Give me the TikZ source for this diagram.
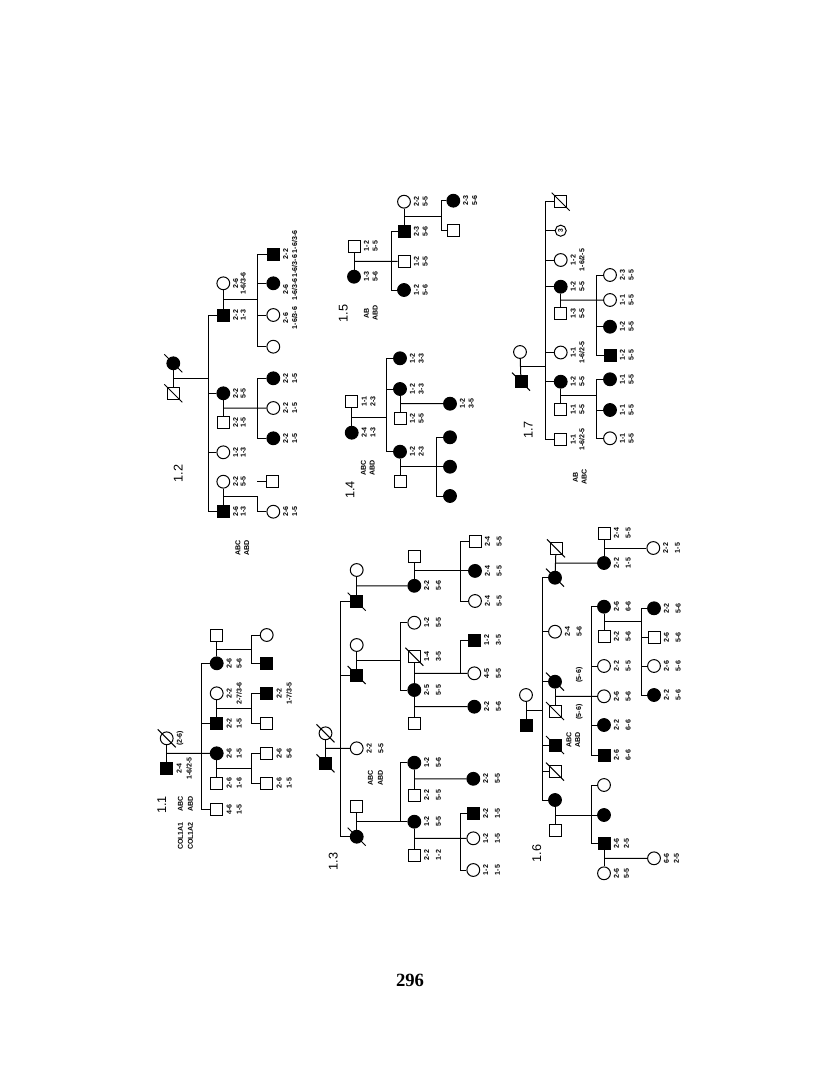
\documentclass[tikz,border=0pt]{standalone}
\usepackage{fontspec}
\setmainfont{Liberation Serif}
\setsansfont{Liberation Sans}
\usetikzlibrary{calc}
\newcommand\plab[4][labB]{\node[#1] (#2-t) at ($(#2)+(9.5,0)$) {#3\\#4};}
\newcommand\slashit[1]{\draw ($(#1)+(-9,-9)$) -- ($(#1)+(9,9)$);}
\begin{document}
\begin{tikzpicture}[x=0.75pt,y=-0.75pt,line width=0.75pt,
  sq/.style={draw,fill=white,rectangle,minimum size=9pt,inner sep=0pt},
  sqf/.style={sq,fill=black},
  ci/.style={draw,fill=white,circle,minimum size=9.6pt,inner sep=0pt},
  cif/.style={ci,fill=black},
  lab/.style={rotate=90,anchor=north,inner sep=0pt,align=center},
  labA/.style={lab,font=\sffamily\bfseries\fontsize{5.3}{5.6}\selectfont},
  labB/.style={lab,font=\sffamily\bfseries\fontsize{5.3}{6.6}\selectfont},
  labC/.style={lab,font=\sffamily\bfseries\fontsize{5.3}{7.5}\selectfont},
  labD/.style={lab,font=\sffamily\bfseries\fontsize{5.3}{8.8}\selectfont},
  fam/.style={rotate=90,inner sep=0pt,font=\sffamily\fontsize{9.5}{9.5}\selectfont}]
\fill[white] (0,0) rectangle (816,1081);
\path[use as bounding box] (0,0) rectangle (816,1081);

% ================= 1.2 =================
\node[cif] (a0) at (173.3,363.3) {};
\node[sq] (a1) at (173.3,393.3) {};
\coordinate (aS) at (208.3,0);
\node[ci] (a11w) at (223.3,283.3) {};
\node[sqf] (a11) at (223.3,315) {};
\node[cif] (a12) at (223.3,393.3) {};
\node[sq] (a12h) at (223.3,422.7) {};
\node[ci] (a13) at (223.3,452.3) {};
\node[ci] (a14w) at (223.3,481.7) {};
\node[sqf] (a14) at (223.3,511.7) {};
\draw (a0) -- (a1);
\coordinate (am) at ($(a0)!.5!(a1)$);
\draw (am) -- (am -| aS);
\draw (a11) -- (a11 -| aS) -- (a14 -| aS) -- (a14);
\draw (a12) -- (a12 -| aS);
\draw (a13) -- (a13 -| aS);
\slashit{a0}\slashit{a1}
\coordinate (bS) at (257.3,0);
\node[sqf] (b1) at (273.3,254) {};
\node[cif] (b2) at (273.3,283.3) {};
\node[ci] (b3) at (273.3,315) {};
\node[ci] (b4) at (273.3,346.7) {};
\draw (a11w) -- (a11);
\coordinate (bm) at ($(a11w)!.5!(a11)$);
\draw (bm) -- (bm -| bS);
\draw (b1) -- (b1 -| bS) -- (b4 -| bS) -- (b4);
\draw (b2) -- (b2 -| bS);
\draw (b3) -- (b3 -| bS);
\node[cif] (c1) at (273.3,378.3) {};
\node[ci] (c2) at (273.3,408) {};
\node[cif] (c3) at (273.3,438.3) {};
\draw (a12) -- (a12h);
\coordinate (cm) at ($(a12)!.5!(a12h)$);
\draw (cm) -- (c2);
\draw (c1) -- (c1 -| bS) -- (c3 -| bS) -- (c3);
\node[ci] (d1) at (273.3,511.7) {};
\node[sq] (d0) at (272.7,481.7) {};
\draw (a14w) -- (a14);
\coordinate (dm) at ($(a14w)!.5!(a14)$);
\draw (dm) -- (dm -| bS) -- (d1 -| bS) -- (d1);
\draw (d0.west) -- ++(-9,0);
\plab[labA]{a11w}{2-6}{1-6/3-6}
\plab[labA]{a11}{2-2}{1-3}
\plab[labA]{a12}{2-2}{5-5}
\plab[labA]{a12h}{2-2}{1-5}
\plab[labA]{a13}{1-2}{1-3}
\plab[labA]{a14w}{2-2}{5-5}
\plab[labA]{a14}{2-6}{1-3}
\plab{b1}{2-2}{1-6/3-6 1-6/3-6}
\node[labB] (b2-t) at ($(b2)+(9.5,6)$) {2-6\\1-6/3-6};
\node[labB] (b3-t) at ($(b3)+(9.5,3)$) {2-6\\1-6/3-6};
\plab{c1}{2-2}{1-5}
\plab{c2}{2-2}{1-5}
\plab{c3}{2-2}{1-5}
\plab{d1}{2-6}{1-5}
\node[fam] (f12) at (178.3,473.3) {1.2};
\node[labB] (g12t) at (235,548) {ABC\\ABD};

% ================= 1.5 =================
\node[sq] (e0) at (354,246) {};
\node[cif] (e1) at (354,276.7) {};
\coordinate (eS) at (391.7,0);
\node[sqf] (e11) at (404,231.7) {};
\node[sq] (e12) at (404,261.3) {};
\node[cif] (e13) at (404,290) {};
\node[ci] (e11w) at (404,201.7) {};
\draw (e0) -- (e1);
\coordinate (em) at ($(e0)!.5!(e1)$);
\draw (em) -- (e12);
\draw (e11) -- (e11 -| eS) -- (e13 -| eS) -- (e13);
\coordinate (fS) at (441.7,0);
\node[cif] (f1) at (453.3,200.7) {};
\node[sq] (f2) at (453.3,230) {};
\draw (e11w) -- (e11);
\coordinate (fm) at ($(e11w)!.5!(e11)$);
\draw (fm) -- (fm -| fS);
\draw (f1) -- (f1 -| fS) -- (f2 -| fS) -- (f2);
\plab{e0}{1-2}{5-5}
\plab{e1}{1-3}{5-6}
\plab{e11}{2-3}{5-6}
\plab{e12}{1-2}{5-5}
\plab{e13}{1-2}{5-6}
\plab{e11w}{2-2}{5-5}
\plab{f1}{2-3}{5-6}
\node[fam] (f15) at (343.3,313.3) {1.5};
\node[labB] (g15t) at (363.5,313) {AB\\ABD};

% ================= 1.4 =================
\node[sq] (g0) at (351.7,401.7) {};
\node[cif] (g1) at (351.7,432.7) {};
\coordinate (gS) at (386,0);
\node[cif] (g11) at (400,358.3) {};
\node[cif] (g12) at (400,389) {};
\node[sq] (g12h) at (400,418.3) {};
\node[cif] (g13) at (400,451.7) {};
\node[sq] (g13h) at (400,481.7) {};
\draw (g0) -- (g1);
\coordinate (gm) at ($(g0)!.5!(g1)$);
\draw (gm) -- (gm -| gS);
\draw (g11) -- (g11 -| gS) -- (g13 -| gS) -- (g13);
\draw (g12) -- (g12 -| gS);
\node[cif] (h1) at (450,403.7) {};
\draw (g12) -- (g12h);
\coordinate (hm) at ($(g12)!.5!(g12h)$);
\draw (hm) -- (h1);
\coordinate (iS) at (436,0);
\node[cif] (i1) at (450,437.3) {};
\node[cif] (i2) at (450,466.7) {};
\node[cif] (i3) at (450,496) {};
\draw (g13) -- (g13h);
\coordinate (im) at ($(g13)!.5!(g13h)$);
\draw (im) -- (i2);
\draw (i1) -- (i1 -| iS) -- (i3 -| iS) -- (i3);
\plab{g0}{1-1}{2-3}
\plab{g1}{2-4}{1-3}
\plab{g11}{1-2}{3-3}
\plab{g12}{1-2}{3-3}
\plab{g12h}{1-2}{5-5}
\plab{g13}{1-2}{2-3}
\plab{h1}{1-2}{3-5}
\node[fam] (f14) at (350,490) {1.4};
\node[labB] (g14t) at (360.5,468) {ABC\\ABD};

% ================= 1.7 =================
\node[ci] (j0) at (520,352) {};
\node[sqf] (j1) at (521,381.7) {};
\coordinate (jS) at (545.5,0);
\node[sq] (j11) at (560.7,201.7) {};
\node[ci,minimum size=8.3pt,rotate=90,font=\sffamily\bfseries\fontsize{5}{5}\selectfont] (j12) at (560.7,230.7) {3};
\node[ci] (j13) at (560.7,260) {};
\node[cif] (j14) at (560.7,286.7) {};
\node[sq] (j14h) at (560.7,313.3) {};
\node[ci] (j15) at (560.7,352.5) {};
\node[cif] (j16) at (560.7,381.7) {};
\node[sq] (j16h) at (560.7,409.3) {};
\node[sq] (j17) at (560.7,439.3) {};
\draw (j0) -- (j1);
\coordinate (jm) at ($(j0)!.5!(j1)$);
\draw (jm) -- (jm -| jS);
\draw (j11) -- (j11 -| jS) -- (j17 -| jS) -- (j17);
\draw (j12) -- (j12 -| jS);
\draw (j13) -- (j13 -| jS);
\draw (j14) -- (j14 -| jS);
\draw (j15) -- (j15 -| jS);
\draw (j16) -- (j16 -| jS);
\slashit{j1}\slashit{j11}
\coordinate (kS) at (596.7,0);
\node[ci] (k1) at (610,275) {};
\node[ci] (k2) at (610,300) {};
\node[cif] (k3) at (610,326.7) {};
\node[sqf] (k4) at (610,355) {};
\draw (j14) -- (j14h);
\coordinate (km) at ($(j14)!.5!(j14h)$);
\draw (km) -- (k2);
\draw (k1) -- (k1 -| kS) -- (k4 -| kS) -- (k4);
\draw (k3) -- (k3 -| kS);
\node[cif] (l1) at (610,379.3) {};
\node[cif] (l2) at (610,410) {};
\node[ci] (l3) at (610,438.3) {};
\draw (j16) -- (j16h);
\coordinate (lm) at ($(j16)!.5!(j16h)$);
\draw (lm) -- (lm -| kS);
\draw (l1) -- (l1 -| kS) -- (l3 -| kS) -- (l3);
\draw (l2) -- (l2 -| kS);
\plab{j13}{1-2}{1-6/2-5}
\plab{j14}{1-2}{5-5}
\plab{j14h}{1-3}{5-5}
\plab{j15}{1-1}{1-6/2-5}
\plab{j16}{1-2}{5-5}
\plab{j16h}{1-1}{5-5}
\plab{j17}{1-1}{1-6/2-5}
\plab{k1}{2-3}{5-5}
\plab{k2}{1-1}{5-5}
\plab{k3}{1-2}{5-5}
\plab{k4}{1-2}{5-5}
\plab{l1}{1-1}{5-5}
\plab{l2}{1-1}{5-5}
\plab{l3}{1-1}{5-5}
\node[fam] (f17) at (528.3,430) {1.7};
\node[labB] (g17t) at (572.5,477) {AB\\ABC};

% ================= 1.1 =================
\node[ci] (m0) at (166.7,738.3) {};
\node[sqf] (m1) at (166.7,768.3) {};
\coordinate (mS) at (201.7,0);
\node[sq] (m11h) at (216.7,635) {};
\node[cif] (m11) at (216.7,663.3) {};
\node[ci] (m12w) at (216.7,693.3) {};
\node[sqf] (m12) at (216.7,723.3) {};
\node[cif] (m13) at (216.7,753.3) {};
\node[sq] (m13h) at (216.7,783) {};
\node[sq] (m14) at (216.7,809.3) {};
\draw (m0) -- (m1);
\coordinate (mm) at ($(m0)!.5!(m1)$);
\draw (mm) -- (m13);
\draw (m11) -- (m11 -| mS) -- (m14 -| mS) -- (m14);
\draw (m12) -- (m12 -| mS);
\slashit{m0}
\coordinate (nS) at (251.7,0);
\node[ci] (n1) at (266.7,635) {};
\node[sqf] (n2) at (266.7,663.3) {};
\draw (m11h) -- (m11);
\coordinate (nm1) at ($(m11h)!.5!(m11)$);
\draw (nm1) -- (nm1 -| nS);
\draw (n1) -- (n1 -| nS) -- (n2 -| nS) -- (n2);
\node[sqf] (n3) at (266.7,693.3) {};
\node[sq] (n4) at (266.7,723.3) {};
\draw (m12w) -- (m12);
\coordinate (nm2) at ($(m12w)!.5!(m12)$);
\draw (nm2) -- (nm2 -| nS);
\draw (n3) -- (n3 -| nS) -- (n4 -| nS) -- (n4);
\node[sq] (n5) at (266.7,753.3) {};
\node[sq] (n6) at (266.7,783) {};
\draw (m13) -- (m13h);
\coordinate (nm3) at ($(m13)!.5!(m13h)$);
\draw (nm3) -- (nm3 -| nS);
\draw (n5) -- (n5 -| nS) -- (n6 -| nS) -- (n6);
\node[labC] (m0-t) at ($(m0)+(9.5,0)$) {(2-6)};
\plab[labC]{m1}{2-4}{1-6/2-5}
\plab[labC]{m11}{2-6}{5-6}
\plab[labC]{m12w}{2-2}{2-7/3-6}
\plab[labC]{m12}{2-2}{1-5}
\plab[labC]{m13}{2-6}{1-5}
\plab[labC]{m13h}{2-6}{1-6}
\plab[labC]{m14}{4-6}{1-5}
\plab[labC]{n3}{2-2}{1-7/3-5}
\plab[labC]{n5}{2-6}{5-6}
\plab[labC]{n6}{2-6}{1-5}
\node[fam] (f11) at (161.7,805) {1.1};
\node[labC] (g11t) at (177.5,804) {ABC\\ABD};
\node[labC] (g11c) at (177.5,836) {COL1A1\\COL1A2};

% ================= 1.3 =================
\node[ci] (p0) at (325.5,733.3) {};
\node[sqf] (p1) at (325.5,763.3) {};
\coordinate (pS) at (340.7,0);
\node[ci] (p11w) at (356.7,570) {};
\node[sqf] (p11) at (356.7,601.7) {};
\node[ci] (p12w) at (356.7,645) {};
\node[sqf] (p12) at (356.7,675) {};
\node[ci] (p13) at (356.7,748.3) {};
\node[sq] (p14h) at (356.7,806.7) {};
\node[cif] (p14) at (356.7,836.7) {};
\draw (p0) -- (p1);
\coordinate (pm) at ($(p0)!.5!(p1)$);
\draw (pm) -- (p13);
\draw (p11) -- (p11 -| pS) -- (p14 -| pS) -- (p14);
\draw (p12) -- (p12 -| pS);
\slashit{p0}\slashit{p1}\slashit{p11}\slashit{p12}\slashit{p14}
% branch a
\node[sq] (q1h) at (414.3,556) {};
\node[cif] (q1) at (414.3,585.8) {};
\draw (p11w) -- (p11);
\coordinate (qm) at ($(p11w)!.5!(p11)$);
\draw (qm) -- (q1);
\coordinate (rS) at (460,0);
\node[sq] (r1) at (475,541.7) {};
\node[cif] (r2) at (475,570.9) {};
\node[ci] (r3) at (475,601) {};
\draw (q1h) -- (q1);
\coordinate (rm) at ($(q1h)!.5!(q1)$);
\draw (rm) -- (r2);
\draw (r1) -- (r1 -| rS) -- (r3 -| rS) -- (r3);
% branch b
\coordinate (sS) at (400,0);
\node[ci] (s1) at (414.3,622.7) {};
\node[sq] (s2) at (414.3,656.7) {};
\node[cif] (s3) at (414.3,690) {};
\node[sq] (s4) at (414.3,723.3) {};
\draw (p12w) -- (p12);
\coordinate (sm) at ($(p12w)!.5!(p12)$);
\draw (sm) -- (sm -| sS);
\draw (s1) -- (s1 -| sS) -- (s3 -| sS) -- (s3);
\slashit{s2}
\coordinate (tS) at (460,0);
\node[sqf] (t1) at (474.3,640) {};
\node[ci] (t2) at (474.3,673.3) {};
\node[cif] (t3) at (474.3,706.7) {};
\draw (s2) -- (s3);
\coordinate (tm) at ($(s2)!.5!(s3)$);
\draw (tm) -- (t2);
\draw (t1) -- (t1 -| tS) -- (t2 -| tS);
\draw (s3) -- (s4);
\coordinate (tm2) at ($(s3)!.5!(s4)$);
\draw (tm2) -- (t3);
% branch d
\coordinate (uS) at (400,0);
\node[cif] (u1) at (414.3,762.7) {};
\node[sq] (u1h) at (414.3,795) {};
\node[cif] (u2) at (414.3,821.7) {};
\node[sq] (u2h) at (414.3,855) {};
\draw (p14h) -- (p14);
\coordinate (um) at ($(p14h)!.5!(p14)$);
\draw (um) -- (u2);
\draw (u1) -- (u1 -| uS) -- (u2 -| uS);
\node[cif] (v1) at (473.3,778.8) {};
\draw (u1) -- (u1h);
\coordinate (vm) at ($(u1)!.5!(u1h)$);
\draw (vm) -- (v1);
\coordinate (wS) at (460,0);
\node[sqf] (w1) at (473.3,813.3) {};
\node[ci] (w2) at (473.3,838.3) {};
\node[ci] (w3) at (473.3,870) {};
\draw (u2) -- (u2h);
\coordinate (wm) at ($(u2)!.5!(u2h)$);
\draw (wm) -- (w2);
\draw (w1) -- (w1 -| wS) -- (w3 -| wS) -- (w3);
\plab[labD]{q1}{2-2}{5-6}
\plab[labD]{r1}{2-4}{5-5}
\plab[labD]{r2}{2-4}{5-5}
\plab[labD]{r3}{2-4}{5-5}
\plab[labD]{s1}{1-2}{5-5}
\plab[labD]{s2}{1-4}{3-5}
\plab[labD]{s3}{2-5}{5-5}
\plab[labD]{t1}{1-2}{3-5}
\plab[labD]{t2}{4-5}{5-5}
\plab[labD]{t3}{2-2}{5-6}
\plab[labD]{p13}{2-2}{5-5}
\plab[labD]{u1}{1-2}{5-6}
\plab[labD]{u1h}{2-2}{5-5}
\plab[labD]{v1}{2-2}{5-5}
\plab[labD]{u2}{1-2}{5-5}
\plab[labD]{u2h}{2-2}{1-2}
\plab[labD]{w1}{2-2}{1-5}
\plab[labD]{w2}{1-2}{1-5}
\plab[labD]{w3}{1-2}{1-5}
\node[fam] (f13) at (333.3,861.7) {1.3};
\node[labC] (g13t) at (367.5,778) {ABC\\ABD};

% ================= 1.6 =================
\node[ci] (x0) at (526,695) {};
\node[sqf] (x1) at (526,725) {};
\coordinate (xS) at (542.7,0);
\node[sq] (x11h) at (556,548.3) {};
\node[cif] (x11) at (555,577.7) {};
\node[ci] (x12) at (555,631.7) {};
\node[cif] (x13) at (555,681.7) {};
\node[sq] (x13h) at (555,711) {};
\node[sqf] (x14) at (555,745) {};
\node[sq] (x15) at (555,771.7) {};
\node[cif] (x16) at (555,800) {};
\node[sq] (x16h) at (555,830) {};
\draw (x0) -- (x1);
\coordinate (xm) at ($(x0)!.5!(x1)$);
\draw (xm) -- (xm -| xS);
\draw (x11) -- (x11 -| xS) -- (x16 -| xS) -- (x16);
\draw (x12) -- (x12 -| xS);
\draw (x13) -- (x13 -| xS);
\draw (x14) -- (x14 -| xS);
\draw (x15) -- (x15 -| xS);
\slashit{x11h}\slashit{x11}\slashit{x13}\slashit{x13h}\slashit{x14}\slashit{x15}
\node[cif] (y1) at (604,563) {};
\node[sq] (y1h) at (604,533) {};
\node[ci] (y2) at (653.3,548) {};
\draw (x11h) -- (x11);
\coordinate (ym) at ($(x11h)!.5!(x11)$);
\draw (ym) -- (y1);
\draw (y1h) -- (y1);
\coordinate (ym2) at ($(y1h)!.5!(y1)$);
\draw (ym2) -- (y2);
\coordinate (zS) at (591.7,0);
\node[cif] (z1) at (604,606.7) {};
\node[sq] (z1h) at (604,636.7) {};
\node[ci] (z3) at (604,666) {};
\node[ci] (z4) at (604,696.3) {};
\node[cif] (z5) at (604,725) {};
\node[sqf] (z6) at (604,755) {};
\draw (x13) -- (x13h);
\coordinate (zm) at ($(x13)!.5!(x13h)$);
\draw (zm) -- (z4);
\draw (z1) -- (z1 -| zS) -- (z6 -| zS) -- (z6);
\draw (z3) -- (z3 -| zS);
\draw (z5) -- (z5 -| zS);
\coordinate (aaS) at (641.7,0);
\node[cif] (aa1) at (654,608.3) {};
\node[sq] (aa2) at (654,637.3) {};
\node[ci] (aa3) at (654,666) {};
\node[cif] (aa4) at (654,695) {};
\draw (z1) -- (z1h);
\coordinate (aam) at ($(z1)!.5!(z1h)$);
\draw (aam) -- (aam -| aaS);
\draw (aa1) -- (aa1 -| aaS) -- (aa4 -| aaS) -- (aa4);
\draw (aa2) -- (aa2 -| aaS);
\draw (aa3) -- (aa3 -| aaS);
\coordinate (bbS) at (591.7,0);
\node[ci] (bb1) at (604,785) {};
\node[cif] (bb2) at (604,815) {};
\node[sqf] (bb3) at (604,843.3) {};
\node[ci] (bb3w) at (604,873.3) {};
\draw (x16) -- (x16h);
\coordinate (bbm) at ($(x16)!.5!(x16h)$);
\draw (bbm) -- (bb2);
\draw (bb1) -- (bb1 -| bbS) -- (bb3 -| bbS) -- (bb3);
\node[ci] (cc1) at (654,858.3) {};
\draw (bb3) -- (bb3w);
\coordinate (ccm) at ($(bb3)!.5!(bb3w)$);
\draw (ccm) -- (cc1);
\plab[labD]{y1}{2-2}{1-5}
\plab[labD]{y1h}{2-4}{5-5}
\plab[labD]{y2}{2-2}{1-5}
\plab[labD]{x12}{2-4}{5-6}
\node[labC] (x13-t) at (575.5,675) {(5-6)};
\node[labC] (x13h-t) at (575.5,712) {(5-6)};
\plab[labD]{z1}{2-6}{6-6}
\plab[labD]{z1h}{2-2}{5-6}
\plab[labD]{z3}{2-2}{5-5}
\plab[labD]{z4}{2-6}{5-6}
\plab[labD]{z5}{2-2}{6-6}
\plab[labD]{z6}{2-6}{6-6}
\plab[labD]{aa1}{2-2}{5-6}
\plab[labD]{aa2}{2-6}{5-6}
\plab[labD]{aa3}{2-6}{5-6}
\plab[labD]{aa4}{2-2}{5-6}
\plab[labC]{bb3}{2-6}{2-5}
\plab[labC]{bb3w}{2-6}{5-5}
\plab[labC]{cc1}{6-6}{2-5}
\node[labB] (g16t) at (566,740) {ABC\\ABD};
\node[fam] (f16) at (536.7,853.3) {1.6};

% page number
\node[font=\rmfamily\bfseries\fontsize{14}{14}\selectfont] (pg) at (410,980) {296};
\end{tikzpicture}
\end{document}
